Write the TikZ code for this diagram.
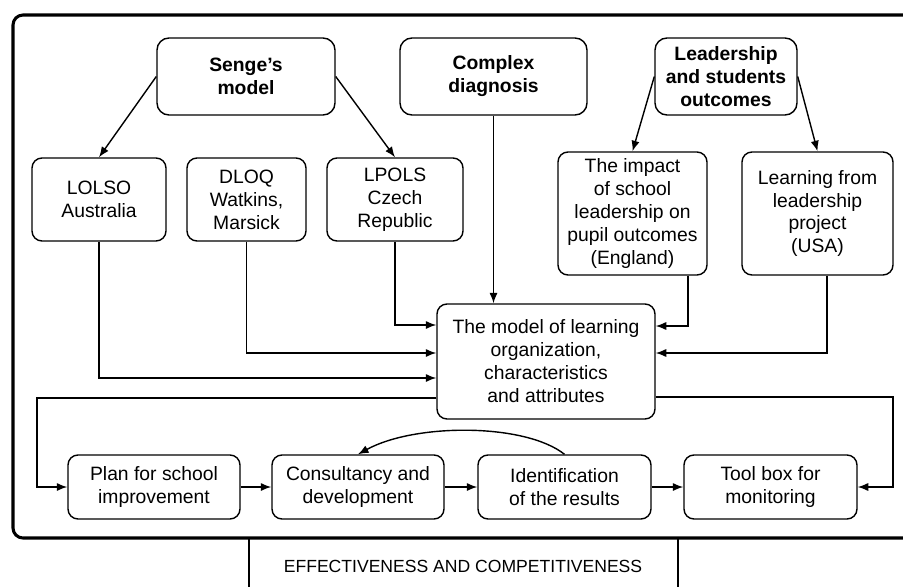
\documentclass[tikz,border=0pt]{standalone}
\usepackage{fontspec}
\setmainfont{Liberation Sans}
\usetikzlibrary{arrows.meta}
\usetikzlibrary{positioning}

\begin{document}
\begin{tikzpicture}[x=0.03cm,y=-0.03cm,
    box/.style={draw, line width=1.2pt, rounded corners=0.3cm, align=center, inner sep=0pt,
                font=\fontsize{16.5}{19.6}\selectfont},
    topbox/.style={box, rounded corners=0.36cm, font=\fontsize{16.5}{19.6}\selectfont\bfseries},
    arr/.style={-{Latex[length=9pt,width=7pt]}, line width=1.2pt}]
    \useasboundingbox (0,0) rectangle (903,587);

    % outer frame
    \draw[line width=2.6pt, rounded corners=0.3cm] (13,538) -- (13,15) -- (930,15) -- (930,538) -- cycle;
    \draw[line width=1.2pt] (249,538) -- (249,587);
    \draw[line width=1.2pt] (678,538) -- (678,587);
    \node[font=\fontsize{15}{18}\selectfont] (effect) at (463,566) {EFFECTIVENESS AND COMPETITIVENESS};

    % top row
    \node[topbox, minimum width=178*0.03cm, minimum height=77*0.03cm] (senge) at (246,76.5) {Senge's\\model};
    \node[topbox, minimum width=187*0.03cm, minimum height=77*0.03cm] (complex) at (493.5,76.5) {Complex\\diagnosis};
    \node[topbox, minimum width=142*0.03cm, minimum height=77*0.03cm] (leader) at (726,76.5) {Leadership\\and students\\outcomes};

    % second row
    \node[box, minimum width=134*0.03cm, minimum height=83*0.03cm] (lolso) at (99,199.5) {LOLSO\\Australia};
    \node[box, minimum width=119*0.03cm, minimum height=83*0.03cm] (dloq) at (246.5,199.5) {DLOQ\\Watkins,\\Marsick};
    \node[box, minimum width=136*0.03cm, minimum height=83*0.03cm] (lpols) at (395,199.5) {LPOLS\\Czech\\Republic};
    \node[box, minimum width=149*0.03cm, minimum height=123*0.03cm] (impact) at (632.5,213.5) {The impact\\of school\\leadership on\\pupil outcomes\\(England)};
    \node[box, minimum width=151*0.03cm, minimum height=123*0.03cm] (learning) at (817.5,213.5) {Learning from\\leadership\\project\\(USA)};

    % central model
    \node[box, minimum width=218*0.03cm, minimum height=115*0.03cm] (model) at (546,361.5) {The model of learning\\organization,\\characteristics\\and attributes};

    % bottom row
    \node[box, minimum width=172*0.03cm, minimum height=64*0.03cm] (plan) at (154,487) {Plan for school\\improvement};
    \node[box, minimum width=172*0.03cm, minimum height=64*0.03cm] (consult) at (358,487) {Consultancy and\\development};
    \node[box, minimum width=173*0.03cm, minimum height=64*0.03cm] (ident) at (564.5,487) {Identification\\of the results};
    \node[box, minimum width=173*0.03cm, minimum height=64*0.03cm] (toolbox) at (770.5,487) {Tool box for\\monitoring};

    \coordinate (lturn) at (37,398);
    \coordinate (rturn) at (893,397);

    \draw[arr] (senge.west) -- (lolso.north);
    \draw[arr] (senge.east) -- (lpols.north);
    \draw[arr] (leader.west) -- (impact.north);
    \draw[arr] (leader.east) -- (learning.north);
    \draw[arr] (complex.south) -- (complex.south |- model.north);

    \draw[arr] (lpols.south) |- (model.west |- 0,325);
    \draw[arr] (dloq.south) |- (model.west |- 0,353);
    \draw[arr] (lolso.south) |- (model.west |- 0,378);
    \draw[arr] (688,0 |- impact.south) |- (model.east |- 0,326);
    \draw[arr] (827,0 |- learning.south) |- (model.east |- 0,353);

    \draw[arr] (model.west |- lturn) -- (lturn) |- (plan.west);
    \draw[arr] (model.east |- rturn) -- (rturn) |- (toolbox.east);

    \draw[arr] (plan) -- (consult);
    \draw[arr] (consult) -- (ident);
    \draw[arr] (ident) -- (toolbox);
    \draw[arr] (ident.north) .. controls (525,423) and (415,423) .. (consult.north);
\end{tikzpicture}
\end{document}
